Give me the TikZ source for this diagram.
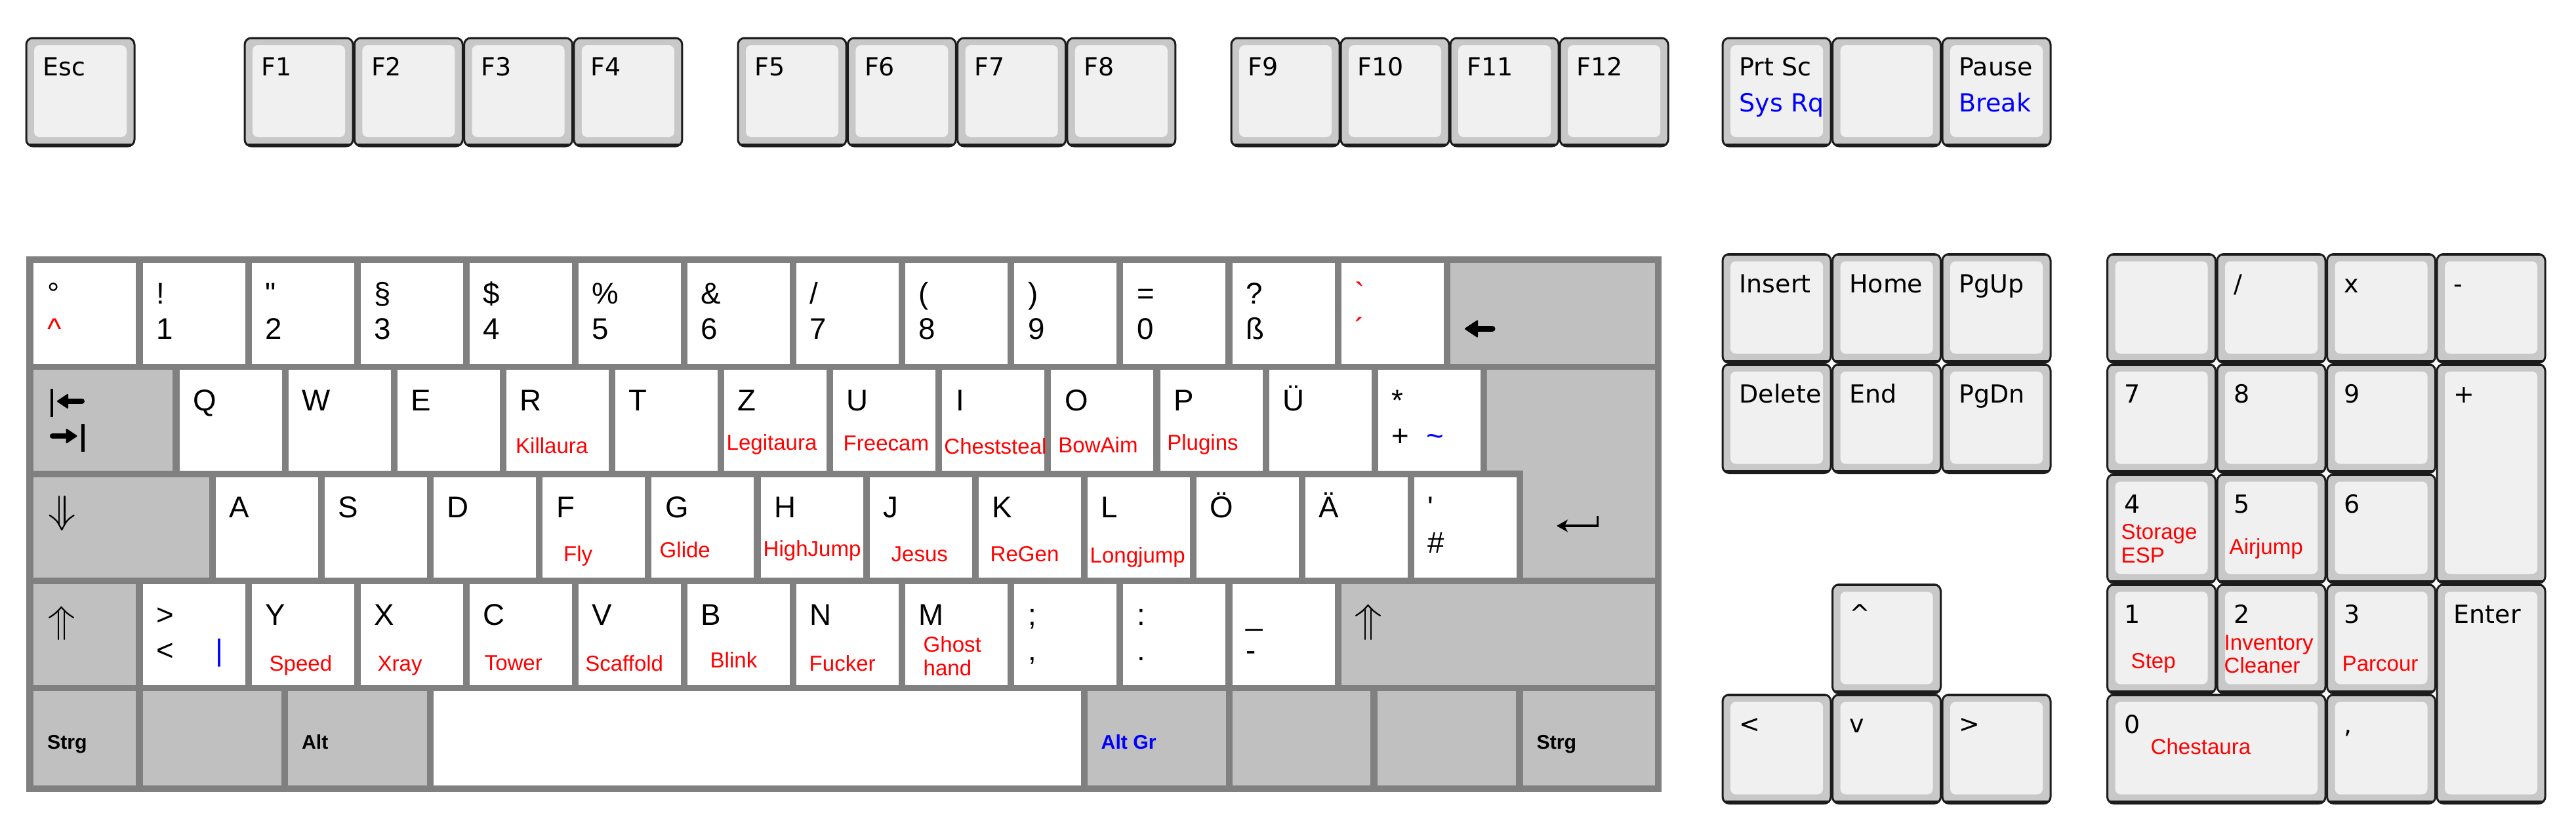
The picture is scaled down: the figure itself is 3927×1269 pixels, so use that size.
\documentclass[tikz,border=0pt]{standalone}
\usepackage{fontspec}
\setmainfont{Liberation Sans}
\newfontfamily\rawfont{Liberation Sans}
\newfontfamily\dvfont{DejaVu Sans}
\usetikzlibrary{arrows.meta}
\definecolor{kframe}{HTML}{808080}
\definecolor{kmod}{HTML}{C0C0C0}
\definecolor{kline}{HTML}{1C1C1C}
\definecolor{kring}{HTML}{C8C8C8}
\definecolor{kface}{HTML}{F0F0F0}
\definecolor{kred}{HTML}{FF0000}
\definecolor{kblue}{HTML}{0000FF}
\tikzset{
  mk/.style={anchor=north west, rectangle, inner sep=0pt, outer sep=0pt, draw=none},
  tk/.style={anchor=north west, rectangle, rounded corners=1mm, draw=kline, line width=0.3mm,
    fill=kring, inner sep=0pt, outer sep=0pt,
    path picture={
      \fill[kface, draw=none, rounded corners=0.8mm]
        ([xshift=1.2mm,yshift=-1.1mm]path picture bounding box.north west) rectangle
        ([xshift=-1.2mm,yshift=1.4mm]path picture bounding box.south east);
      \fill[kline, draw=none, sharp corners]
        (path picture bounding box.south west) rectangle ([yshift=0.45mm]path picture bounding box.south east);
      \fill[kline, draw=none, sharp corners]
        (path picture bounding box.north west) rectangle ([yshift=-0.2mm]path picture bounding box.north east);
    }},
  mlab/.style={anchor=base west, inner sep=0pt, font=\rawfont\fontsize{13}{15}\selectfont},
  rlab/.style={anchor=base west, inner sep=0pt, text=kred, font=\rawfont\fontsize{9.4}{11}\selectfont},
  flab/.style={anchor=base west, inner sep=0pt, font=\dvfont\fontsize{10.8}{13}\selectfont},
  modlab/.style={anchor=base west, inner sep=0pt, font=\rawfont\bfseries\fontsize{8.6}{10}\selectfont},
  sym/.style={draw=black, line width=0.22mm, line cap=round, line join=round},
}
% 3D key: name, x, y, w, h
\newcommand\tkey[5]{\node[tk, minimum width={#4*0.1mm}, minimum height={#5*0.1mm}] (#1) at (#2,#3) {};}
\newcommand\tlab[3][59]{\node[flab] (#2-t) at ([shift={(25,#1)}]#2.north west) {#3};}
\newcommand\tlabb[2]{\node[flab, text=kblue] (#1-b) at ([shift={(25,112)}]#1.north west) {#2};}
% flat key: [fill] name, x, y, w, h
\newcommand\mkey[6][white]{\node[mk, fill=#1, minimum width={#5*0.1mm}, minimum height={#6*0.1mm}] (#2) at (#3,#4) {};}
\newcommand\ku[3][]{\node[mlab,#1] (#2-u) at ([shift={(20,62)}]#2.north west) {#3};}
\newcommand\kl[3][]{\node[mlab,#1] (#2-l) at ([shift={(20,116)}]#2.north west) {#3};}
\newcommand\wk[4]{\mkey{#1}{#2}{#3}{156}{153.5}\ku{#1}{#4}}
\newcommand\dblup[3]{%
  \draw[sym] ({#1-18.5},{#2+16}) .. controls ({#1-8},{#2+9}) .. (#1,#2) .. controls ({#1+8},{#2+9}) .. ({#1+18.5},{#2+16});
  \draw[sym] ({#1-4.2},{#2+7}) -- ({#1-4.2},#3);
  \draw[sym] ({#1+4.2},{#2+7}) -- ({#1+4.2},#3);}
\begin{document}
\begin{tikzpicture}[x=0.1mm,y=-0.1mm]
\useasboundingbox (0,0) rectangle (3927,1269);
\fill[white] (0,0) rectangle (3927,1269);

% ---------- function row ----------
\tkey{esc}{40}{58}{165}{165}\tlab[57]{esc}{Esc}
\tkey{f1}{373}{58}{165}{165}\tlab[57]{f1}{F1}
\tkey{f2}{540.3}{58}{165}{165}\tlab[57]{f2}{F2}
\tkey{f3}{707.6}{58}{165}{165}\tlab[57]{f3}{F3}
\tkey{f4}{874.9}{58}{165}{165}\tlab[57]{f4}{F4}
\tkey{f5}{1125}{58}{165}{165}\tlab[57]{f5}{F5}
\tkey{f6}{1292.3}{58}{165}{165}\tlab[57]{f6}{F6}
\tkey{f7}{1459.6}{58}{165}{165}\tlab[57]{f7}{F7}
\tkey{f8}{1626.9}{58}{165}{165}\tlab[57]{f8}{F8}
\tkey{f9}{1877}{58}{165}{165}\tlab[57]{f9}{F9}
\tkey{f10}{2044}{58}{165}{165}\tlab[57]{f10}{F10}
\tkey{f11}{2211}{58}{165}{165}\tlab[57]{f11}{F11}
\tkey{f12}{2378}{58}{165}{165}\tlab[57]{f12}{F12}
\tkey{prt}{2626}{58}{165}{165}\tlab[57]{prt}{Prt Sc}\tlabb{prt}{Sys Rq}
\tkey{scr}{2793.5}{58}{165}{165}
\tkey{pau}{2961}{58}{165}{165}\tlab[57]{pau}{Pause}\tlabb{pau}{Break}

% ---------- navigation ----------
\tkey{ins}{2626}{387.5}{165}{166}\tlab{ins}{Insert}
\tkey{hom}{2793.5}{387.5}{165}{166}\tlab{hom}{Home}
\tkey{pgu}{2961}{387.5}{165}{166}\tlab{pgu}{PgUp}
\tkey{del}{2626}{555.5}{165}{166}\tlab{del}{Delete}
\tkey{end}{2793.5}{555.5}{165}{166}\tlab{end}{End}
\tkey{pgd}{2961}{555.5}{165}{166}\tlab{pgd}{PgDn}
\tkey{aup}{2793.5}{891.5}{165}{166}\tlab[58]{aup}{\textasciicircum}
\tkey{alf}{2626}{1059.5}{165}{166}\tlab[58]{alf}{<}
\tkey{adn}{2793.5}{1059.5}{165}{166}\tlab[58]{adn}{v}
\tkey{art}{2961}{1059.5}{165}{166}\tlab[58]{art}{>}

% ---------- numpad ----------
\tkey{nnum}{3212.5}{387.5}{165}{166}
\tkey{ndiv}{3380}{387.5}{165}{166}\tlab{ndiv}{/}
\tkey{nmul}{3547.5}{387.5}{165}{166}\tlab{nmul}{x}
\tkey{nsub}{3715}{387.5}{165}{166}\tlab{nsub}{-}
\tkey{n7}{3212.5}{555.5}{165}{166}\tlab{n7}{7}
\tkey{n8}{3380}{555.5}{165}{166}\tlab{n8}{8}
\tkey{n9}{3547.5}{555.5}{165}{166}\tlab{n9}{9}
\tkey{nadd}{3715}{555.5}{165}{334}\tlab{nadd}{+}
\tkey{n4}{3212.5}{723.5}{165}{166}\tlab{n4}{4}
\tkey{n5}{3380}{723.5}{165}{166}\tlab{n5}{5}
\tkey{n6}{3547.5}{723.5}{165}{166}\tlab{n6}{6}
\tkey{n1}{3212.5}{891.5}{165}{166}\tlab{n1}{1}
\tkey{n2}{3380}{891.5}{165}{166}\tlab{n2}{2}
\tkey{n3}{3547.5}{891.5}{165}{166}\tlab{n3}{3}
\tkey{nent}{3715}{891.5}{165}{334}\tlab{nent}{Enter}
\tkey{n0}{3212.5}{1059.5}{332.5}{166}\tlab{n0}{0}
\tkey{ndot}{3547.5}{1059.5}{165}{166}\tlab{ndot}{,}
\node[rlab] (l-storage) at (3233,822) {Storage};
\node[rlab] (l-esp) at (3233,858) {ESP};
\node[rlab] (l-airjump) at (3398,845) {Airjump};
\node[rlab] (l-step) at (3248,1019) {Step};
\node[rlab] (l-inventory) at (3390,991) {Inventory};
\node[rlab] (l-cleaner) at (3390,1026) {Cleaner};
\node[rlab] (l-parcour) at (3570,1023) {Parcour};
\node[rlab] (l-chestaura) at (3278,1150) {Chestaura};

% ---------- main block ----------
\fill[kframe] (40,391) rectangle (2533,1208);
% row 1
\mkey{k0}{51.4}{401}{156}{153.5}\ku{k0}{°}\kl[text=kred]{k0}{\textasciicircum}
\mkey{k1}{217.5}{401}{156}{153.5}\ku{k1}{!}\kl{k1}{1}
\mkey{k2}{383.6}{401}{156}{153.5}\ku{k2}{"}\kl{k2}{2}
\mkey{k3}{549.7}{401}{156}{153.5}\ku{k3}{§}\kl{k3}{3}
\mkey{k4}{715.8}{401}{156}{153.5}\ku{k4}{\$}\kl{k4}{4}
\mkey{k5}{881.9}{401}{156}{153.5}\ku{k5}{\%}\kl{k5}{5}
\mkey{k6}{1048}{401}{156}{153.5}\ku{k6}{\&}\kl{k6}{6}
\mkey{k7}{1214.1}{401}{156}{153.5}\ku{k7}{/}\kl{k7}{7}
\mkey{k8}{1380.2}{401}{156}{153.5}\ku{k8}{(}\kl{k8}{8}
\mkey{k9}{1546.3}{401}{156}{153.5}\ku{k9}{)}\kl{k9}{9}
\mkey{k10}{1712.4}{401}{156}{153.5}\ku{k10}{=}\kl{k10}{0}
\mkey{k11}{1878.5}{401}{156}{153.5}\ku{k11}{?}\kl{k11}{ß}
\mkey{k12}{2044.6}{401}{156}{153.5}\ku[text=kred]{k12}{`}\kl[text=kred]{k12}{´}
\mkey[kmod]{bs}{2210.7}{401}{312.3}{153.5}
% row 2
\mkey[kmod]{tab}{51.4}{564}{211.6}{153.5}
\wk{kq}{273.6}{564}{Q}
\wk{kw}{439.7}{564}{W}
\wk{ke}{605.8}{564}{E}
\wk{kr}{771.9}{564}{R}
\wk{kt}{938}{564}{T}
\wk{kz}{1104.1}{564}{Z}
\wk{ku}{1270.2}{564}{U}
\wk{ki}{1436.3}{564}{I}
\wk{ko}{1602.4}{564}{O}
\wk{kp}{1768.5}{564}{P}
\wk{kue}{1934.6}{564}{Ü}
\wk{kplus}{2100.7}{564}{*}\kl{kplus}{+}
\node[mlab, text=kblue] (kplus-a) at ([shift={(73,116)}]kplus.north west) {\textasciitilde};
\fill[kmod] (2266.8,564) -- (2523,564) -- (2523,881) -- (2322.2,881) -- (2322.2,717.5) -- (2266.8,717.5) -- cycle;
\node[rlab] (l-killaura) at (785.5,691) {Killaura};
\node[rlab] (l-legitaura) at (1107,686) {Legitaura};
\node[rlab] (l-freecam) at (1285,687) {Freecam};
\node[rlab] (l-cheststeal) at (1438.7,692) {Cheststeal};
\node[rlab] (l-bowaim) at (1612.7,690) {BowAim};
\node[rlab] (l-plugins) at (1778.6,686) {Plugins};
% row 3
\mkey[kmod]{caps}{51.4}{727.5}{267.6}{153.5}
\wk{ka}{329}{727.5}{A}
\wk{ks}{495.1}{727.5}{S}
\wk{kd}{661.2}{727.5}{D}
\wk{kf}{827.3}{727.5}{F}
\wk{kg}{993.4}{727.5}{G}
\wk{kh}{1159.5}{727.5}{H}
\wk{kj}{1325.6}{727.5}{J}
\wk{kk}{1491.7}{727.5}{K}
\wk{kl}{1657.8}{727.5}{L}
\wk{koe}{1823.9}{727.5}{Ö}
\wk{kae}{1990}{727.5}{Ä}
\wk{khash}{2156.1}{727.5}{'}\kl{khash}{\#}
\node[rlab] (l-fly) at (858.5,856) {Fly};
\node[rlab] (l-glide) at (1005,850) {Glide};
\node[rlab] (l-highjump) at (1163,848) {HighJump};
\node[rlab] (l-jesus) at (1358,856) {Jesus};
\node[rlab] (l-regen) at (1509,856) {ReGen};
\node[rlab] (l-longjump) at (1661,858) {Longjump};
% row 4
\mkey[kmod]{lsh}{51.4}{891}{156}{153.5}
\wk{klt}{217.5}{891}{>}\kl{klt}{<}
\node[mlab, text=kblue] (klt-a) at ([shift={(110,116)}]klt.north west) {|};
\wk{ky}{383.6}{891}{Y}
\wk{kx}{549.7}{891}{X}
\wk{kc}{715.8}{891}{C}
\wk{kv}{881.9}{891}{V}
\wk{kb}{1048}{891}{B}
\wk{kn}{1214.1}{891}{N}
\wk{km}{1380.2}{891}{M}
\wk{ksemi}{1546.3}{891}{;}\kl{ksemi}{,}
\wk{kcolon}{1712.4}{891}{:}\kl{kcolon}{.}
\wk{kminus}{1878.5}{891}{\_}\kl{kminus}{-}
\mkey[kmod]{rsh}{2044.6}{891}{478.4}{153.5}
\node[rlab] (l-speed) at (410,1023) {Speed};
\node[rlab] (l-xray) at (575,1023) {Xray};
\node[rlab] (l-tower) at (738,1022) {Tower};
\node[rlab] (l-scaffold) at (891.6,1023) {Scaffold};
\node[rlab] (l-blink) at (1082,1018) {Blink};
\node[rlab] (l-fucker) at (1233,1023) {Fucker};
\node[rlab] (l-ghost) at (1407,994.5) {Ghost};
\node[rlab] (l-hand) at (1407,1030) {hand};
% row 5
\mkey[kmod]{lctl}{51.4}{1054}{156}{144}
\mkey[kmod]{lwin}{217.5}{1054}{211.1}{144}
\mkey[kmod]{lalt}{439.4}{1054}{211.4}{144}
\mkey{space}{660.7}{1054}{987.3}{144}
\mkey[kmod]{ralt}{1658}{1054}{210.5}{144}
\mkey[kmod]{rwin}{1878.5}{1054}{210.5}{144}
\mkey[kmod]{menu}{2100}{1054}{211}{144}
\mkey[kmod]{rctl}{2322}{1054}{201}{144}
\node[modlab] (lctl-t) at ([shift={(20,88)}]lctl.north west) {Strg};
\node[modlab] (lalt-t) at ([shift={(20,88)}]lalt.north west) {Alt};
\node[modlab, text=kblue] (ralt-t) at ([shift={(20,88)}]ralt.north west) {Alt Gr};
\node[modlab] (rctl-t) at ([shift={(20,88)}]rctl.north west) {Strg};

% ---------- key symbols ----------
% backspace
\fill[rounded corners=0.2mm] (2232,501.5) -- (2253,487.5) -- (2253,515.5) -- cycle;
\draw[line width=0.9mm, line cap=round] (2250,501.5) -- (2275,501.5);
% tab
\draw[line width=0.45mm] (79,593) -- (79,636);
\fill[rounded corners=0.2mm] (86,612) -- (104,600) -- (104,624) -- cycle;
\draw[line width=0.8mm, line cap=round] (102,612) -- (125,612);
\draw[line width=0.8mm, line cap=round] (80,665) -- (100,665);
\fill[rounded corners=0.2mm] (118.5,665) -- (100.5,653) -- (100.5,677) -- cycle;
\draw[line width=0.45mm] (126.5,647) -- (126.5,689);
% caps lock
\draw[sym] (89.9,757) -- (89.9,799);
\draw[sym] (98.5,757) -- (98.5,799);
\draw[sym] (75.7,786) .. controls (86.2,793) .. (94.2,808) .. controls (102.2,793) .. (112.7,786);
% shifts
\dblup{93.5}{926}{975}
\dblup{2085.5}{923}{975}
% enter
\draw[line width=0.35mm, -{Stealth[length=1.7mm,width=1.9mm,inset=0.5mm]}] (2435.5,787) |- (2373,802);
\end{tikzpicture}
\end{document}
